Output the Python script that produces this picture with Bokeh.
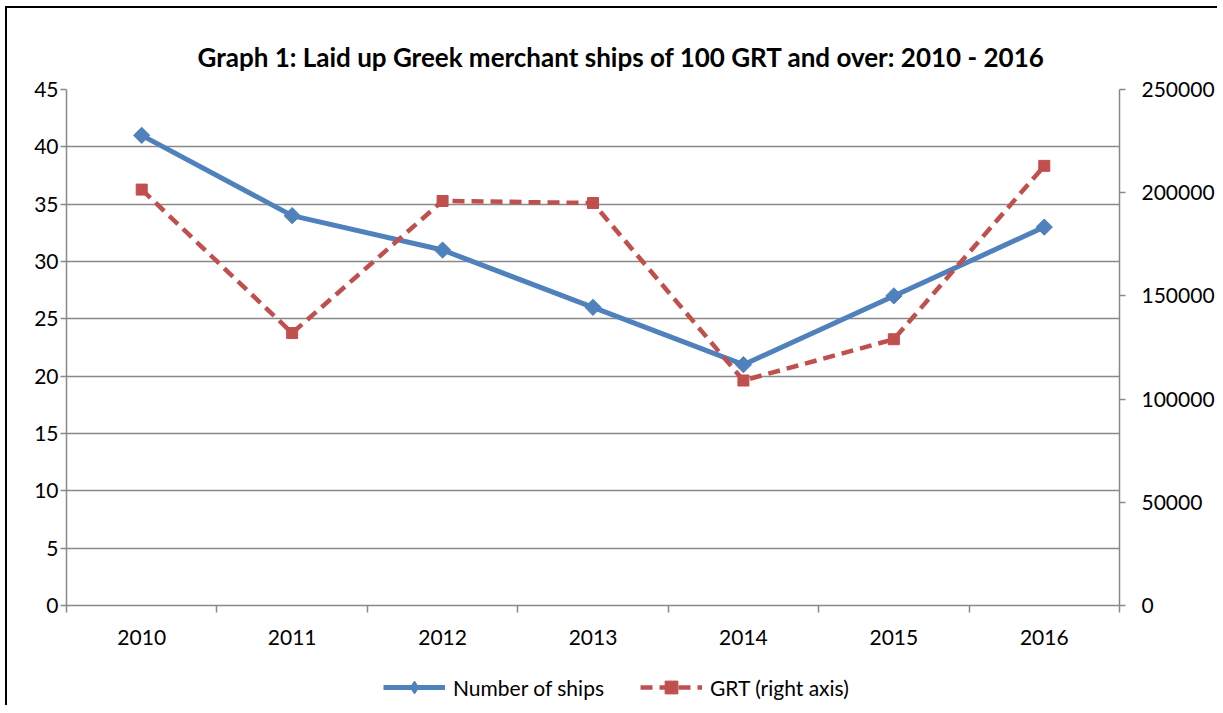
import math
from bokeh.plotting import figure
from bokeh.layouts import column
from bokeh.models import Range1d, LinearAxis, FixedTicker, Legend, LegendItem, BasicTickFormatter
from bokeh.embed import file_html
from bokeh.resources import INLINE

years = ["2010", "2011", "2012", "2013", "2014", "2015", "2016"]
ships = [41, 34, 31, 26, 21, 27, 33]
grt = [201500, 132000, 196000, 195000, 109000, 129000, 213000]
left_ticks = [0, 5, 10, 15, 20, 25, 30, 35, 40, 45]
right_ticks = [0, 50000, 100000, 150000, 200000, 250000]
series_names = ["Number of ships", "GRT (right axis)"]

FONT = "Lato"
BLUE = "#4F81BD"
RED = "#C0504D"
GRAY = "#898989"
TICK_FS = "21px"

xpos = [i + 0.5 for i in range(len(years))]
bounds = list(range(len(years) + 1))

p = figure(width=1210, height=650, output_backend="svg", toolbar_location=None,
           x_range=Range1d(0, len(years)), y_range=Range1d(0, 45),
           min_border_left=59, min_border_right=98, min_border_top=81, min_border_bottom=53)
p.outline_line_color = None
p.extra_y_ranges = {"grt": Range1d(0, 250000)}

# title
p.title.text = "Graph 1: Laid up Greek merchant ships of 100 GRT and over: 2010 - 2016"
p.title.align = "left"
p.title.offset = 131
p.title.text_font = FONT
p.title.text_font_style = "bold"
p.title.text_font_size = "26px"
p.title.text_color = "black"
p.title.standoff = 33

# x axis
xa = p.xaxis[0]
xa.ticker = FixedTicker(ticks=xpos, minor_ticks=bounds)
xa.major_label_overrides = {x: y for x, y in zip(xpos, years)}
xa.major_tick_out = 0
xa.major_tick_in = 0
xa.minor_tick_out = 7
xa.minor_tick_in = 0
xa.minor_tick_line_color = GRAY
xa.minor_tick_line_width = 1.5
xa.axis_line_color = GRAY
xa.axis_line_width = 1.5
xa.major_label_standoff = 17
xa.major_label_text_font = FONT
xa.major_label_text_font_size = TICK_FS
xa.major_label_text_color = "black"

# left axis
ya = p.yaxis[0]
ya.ticker = FixedTicker(ticks=left_ticks)
ya.major_tick_out = 6
ya.major_tick_in = 0
ya.minor_tick_out = 0
ya.minor_tick_in = 0
ya.major_tick_line_color = GRAY
ya.major_tick_line_width = 1.5
ya.axis_line_color = GRAY
ya.axis_line_width = 1.5
ya.major_label_standoff = 2
ya.major_label_text_font = FONT
ya.major_label_text_font_size = TICK_FS
ya.major_label_text_color = "black"

# right axis
ra = LinearAxis(y_range_name="grt", ticker=FixedTicker(ticks=right_ticks),
                formatter=BasicTickFormatter(use_scientific=False))
ra.major_tick_out = 6
ra.major_tick_in = 0
ra.minor_tick_out = 0
ra.minor_tick_in = 0
ra.major_tick_line_color = GRAY
ra.major_tick_line_width = 1.5
ra.axis_line_color = GRAY
ra.axis_line_width = 1.5
ra.major_label_standoff = 16
ra.major_label_text_font = FONT
ra.major_label_text_font_size = TICK_FS
ra.major_label_text_color = "black"
p.add_layout(ra, "right")

p.xgrid.visible = False
p.ygrid.ticker = FixedTicker(ticks=left_ticks)
p.ygrid.grid_line_color = GRAY
p.ygrid.grid_line_width = 1.5

# series styles
line1 = dict(line_color=BLUE, line_width=5)
mark1 = dict(marker="square", angle=math.pi / 4, size=11.5, fill_color=BLUE, line_color=BLUE)
line2 = dict(line_color=RED, line_width=4.5, line_dash="12 7")
mark2 = dict(marker="square", size=11, fill_color=RED, line_color=RED)

p.line(xpos, ships, **line1)
p.scatter(xpos, ships, **mark1)
p.line(xpos, grt, y_range_name="grt", **line2)
p.scatter(xpos, grt, y_range_name="grt", **mark2)

# legend strip below the chart (same data, drawn out of view; only the legend shows)
q = figure(width=1210, height=47, output_backend="svg", toolbar_location=None,
           x_range=Range1d(100, 101), y_range=Range1d(0, 45),
           x_axis_location=None, y_axis_location=None,
           min_border_left=0, min_border_right=0, min_border_top=0, min_border_bottom=0)
q.grid.visible = False
q.outline_line_color = None
q.extra_y_ranges = {"grt": Range1d(0, 250000)}
k1 = q.line(xpos, ships, **line1)
n1 = q.scatter(xpos, ships, marker="diamond", size=17, fill_color=BLUE, line_color=BLUE)
k2 = q.line(xpos, grt, y_range_name="grt", **line2)
n2 = q.scatter(xpos, grt, y_range_name="grt", **mark2)

legend = Legend(items=[LegendItem(label=series_names[0], renderers=[k1, n1]),
                       LegendItem(label=series_names[1], renderers=[k2, n2])],
                orientation="horizontal", location=(317, 2))
legend.glyph_width = 62
legend.glyph_height = 32
legend.spacing = 36
legend.padding = 0
legend.margin = 0
legend.label_standoff = 8
legend.label_text_font = FONT
legend.label_text_font_size = TICK_FS
legend.label_text_color = "black"
legend.border_line_color = None
legend.background_fill_alpha = 0
q.add_layout(legend, "center")

layout = column(p, q, spacing=0, margin=(6, 0, 0, 5),
                styles={"border-left": "2px solid black", "border-top": "2px solid black"})

open("out.html", "w").write(file_html(layout, INLINE))
